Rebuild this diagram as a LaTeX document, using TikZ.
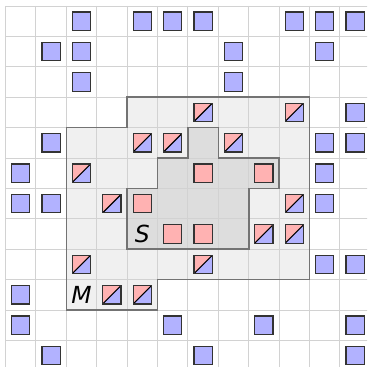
\documentclass[tikz,border=0pt]{standalone}
\usepackage{fontspec}
\newfontfamily\lblfont{DejaVu Sans}
\begin{document}
\begin{tikzpicture}[x=1cm,y=-1cm,
  gridline/.style={draw=gray!35, line width=0.8pt},
  regionfillM/.style={fill=gray!12},
  regionfillS/.style={fill=gray!27},
  regionline/.style={draw=black!55, line width=1.5pt, line join=miter},
  sq/.style={draw=black!80, line width=1.1pt, minimum size=0.6cm, inner sep=0pt, outer sep=0pt},
  bsq/.style={sq, fill=blue!30},
  rsq/.style={sq, fill=red!30},
  hsq/.style={sq, fill=red!30, path picture={
      \fill[blue!30] (path picture bounding box.south west) -- (path picture bounding box.south east) -- (path picture bounding box.north east) -- cycle;
      \draw[black, line width=1pt] (path picture bounding box.south west) -- (path picture bounding box.north east);}},
  lbl/.style={font=\lblfont\itshape\fontsize{22}{26}\selectfont, inner sep=0pt}]
\useasboundingbox (-0.181,-0.197) rectangle (11.891,11.875);
\clip (-0.181,-0.197) rectangle (11.891,11.875);
% regions fill
\fill[regionfillM] (4,3) -- (10,3) -- (10,9) -- (5,9) -- (5,10) -- (2,10) -- (2,4) -- (4,4) -- cycle;
\fill[regionfillS] (5,5) -- (6,5) -- (6,4) -- (7,4) -- (7,5) -- (9,5) -- (9,6) -- (8,6) -- (8,8) -- (4,8) -- (4,6) -- (5,6) -- cycle;
% grid
\foreach \k in {0,...,12} {
  \draw[gridline] (\k,0) -- (\k,12);
  \draw[gridline] (0,\k) -- (12,\k);
}
% region borders
\draw[regionline] (4,3) -- (10,3) -- (10,9) -- (5,9) -- (5,10) -- (2,10) -- (2,4) -- (4,4) -- cycle;
\draw[regionline] (5,5) -- (6,5) -- (6,4) -- (7,4) -- (7,5) -- (9,5) -- (9,6) -- (8,6) -- (8,8) -- (4,8) -- (4,6) -- (5,6) -- cycle;
% squares
\foreach \c/\r in {2/0,4/0,5/0,6/0,9/0,10/0,11/0,1/1,2/1,7/1,10/1,2/2,7/2,11/3,1/4,10/4,11/4,0/5,10/5,0/6,1/6,10/6,10/8,11/8,0/9,0/10,5/10,8/10,11/10,1/11,6/11,11/11}
  \node[bsq] (b\c-\r) at (\c+0.5,\r+0.5) {};
\foreach \c/\r in {6/5,8/5,4/6,5/7,6/7}
  \node[rsq] (r\c-\r) at (\c+0.5,\r+0.5) {};
\foreach \c/\r in {6/3,9/3,4/4,5/4,7/4,2/5,3/6,9/6,8/7,9/7,2/8,6/8,3/9,4/9}
  \node[hsq] (h\c-\r) at (\c+0.5,\r+0.5) {};
% labels
\node[lbl] (S) at (4.5,7.5) {S};
\node[lbl] (M) at (2.5,9.5) {M};
\end{tikzpicture}
\end{document}
